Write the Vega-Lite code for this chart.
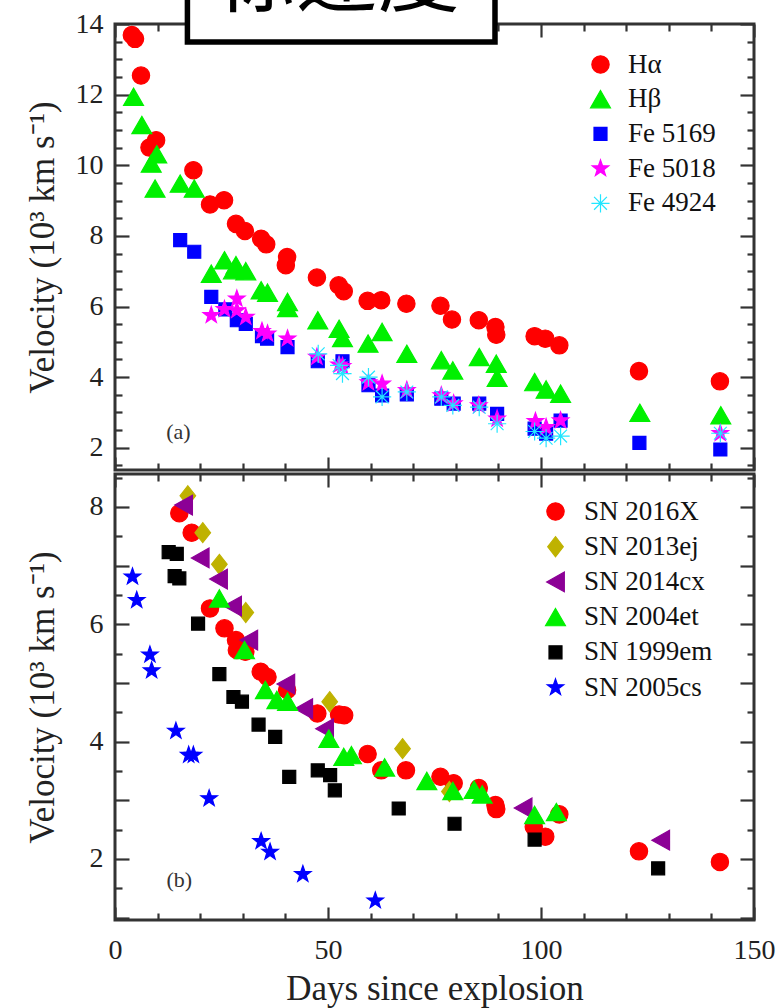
{
  "$schema": "https://vega.github.io/schema/vega-lite/v6.json",
  "autosize": {"type": "pad"},
  "padding": {"top": -122, "left": 23, "right": 5, "bottom": 2},
  "background": "white",
  "bounds": "flush",
  "spacing": 4,
  "resolve": {
    "scale": {"color": "independent", "stroke": "independent", "shape": "independent"},
    "legend": {"color": "independent", "stroke": "independent", "shape": "independent"}
  },
  "config": {
    "view": {"stroke": "#333", "strokeWidth": 3},
    "font": "Liberation Serif"
  },
  "datasets": {
    "top": [
      {"series": "Hα", "day": 3.95, "v": 13.69}, {"series": "Hα", "day": 4.7, "v": 13.58}, {"series": "Hα", "day": 6.1, "v": 12.54},
      {"series": "Hα", "day": 8.1, "v": 10.5}, {"series": "Hα", "day": 9.65, "v": 10.71}, {"series": "Hα", "day": 18.4, "v": 9.86},
      {"series": "Hα", "day": 22.3, "v": 8.89}, {"series": "Hα", "day": 25.6, "v": 9.01}, {"series": "Hα", "day": 28.4, "v": 8.34},
      {"series": "Hα", "day": 30.5, "v": 8.14}, {"series": "Hα", "day": 34.3, "v": 7.92}, {"series": "Hα", "day": 35.5, "v": 7.76},
      {"series": "Hα", "day": 40.4, "v": 7.4}, {"series": "Hα", "day": 40.1, "v": 7.17}, {"series": "Hα", "day": 47.4, "v": 6.82},
      {"series": "Hα", "day": 52.5, "v": 6.6}, {"series": "Hα", "day": 53.7, "v": 6.43}, {"series": "Hα", "day": 59.3, "v": 6.16},
      {"series": "Hα", "day": 62.5, "v": 6.18}, {"series": "Hα", "day": 68.4, "v": 6.08}, {"series": "Hα", "day": 76.4, "v": 6.02},
      {"series": "Hα", "day": 79.1, "v": 5.63}, {"series": "Hα", "day": 85.4, "v": 5.61}, {"series": "Hα", "day": 89.3, "v": 5.42},
      {"series": "Hα", "day": 89.5, "v": 5.2}, {"series": "Hα", "day": 98.5, "v": 5.16}, {"series": "Hα", "day": 101.0, "v": 5.09},
      {"series": "Hα", "day": 104.3, "v": 4.9}, {"series": "Hα", "day": 123.0, "v": 4.17}, {"series": "Hα", "day": 142.0, "v": 3.88},
      {"series": "Hβ", "day": 4.35, "v": 11.94}, {"series": "Hβ", "day": 6.3, "v": 11.14}, {"series": "Hβ", "day": 9.8, "v": 10.31},
      {"series": "Hβ", "day": 8.5, "v": 10.05}, {"series": "Hβ", "day": 9.4, "v": 9.34}, {"series": "Hβ", "day": 15.3, "v": 9.48},
      {"series": "Hβ", "day": 18.6, "v": 9.34}, {"series": "Hβ", "day": 22.6, "v": 6.93}, {"series": "Hβ", "day": 25.7, "v": 7.31},
      {"series": "Hβ", "day": 28.4, "v": 7.17}, {"series": "Hβ", "day": 27.8, "v": 7.03}, {"series": "Hβ", "day": 30.7, "v": 7.0},
      {"series": "Hβ", "day": 34.3, "v": 6.46}, {"series": "Hβ", "day": 35.8, "v": 6.39}, {"series": "Hβ", "day": 40.5, "v": 6.13},
      {"series": "Hβ", "day": 40.5, "v": 5.96}, {"series": "Hβ", "day": 47.6, "v": 5.61}, {"series": "Hβ", "day": 52.6, "v": 5.37},
      {"series": "Hβ", "day": 53.4, "v": 5.11}, {"series": "Hβ", "day": 59.4, "v": 4.95}, {"series": "Hβ", "day": 62.7, "v": 5.28},
      {"series": "Hβ", "day": 68.5, "v": 4.66}, {"series": "Hβ", "day": 76.6, "v": 4.48}, {"series": "Hβ", "day": 79.3, "v": 4.19},
      {"series": "Hβ", "day": 85.5, "v": 4.57}, {"series": "Hβ", "day": 89.5, "v": 4.38}, {"series": "Hβ", "day": 89.7, "v": 3.98},
      {"series": "Hβ", "day": 98.5, "v": 3.86}, {"series": "Hβ", "day": 101.2, "v": 3.65}, {"series": "Hβ", "day": 104.6, "v": 3.53},
      {"series": "Hβ", "day": 123.2, "v": 2.99}, {"series": "Hβ", "day": 142.2, "v": 2.92},
      {"series": "Fe 5169", "day": 15.3, "v": 7.88}, {"series": "Fe 5169", "day": 18.6, "v": 7.55}, {"series": "Fe 5169", "day": 22.6, "v": 6.27},
      {"series": "Fe 5169", "day": 25.9, "v": 5.92}, {"series": "Fe 5169", "day": 28.6, "v": 5.61}, {"series": "Fe 5169", "day": 30.7, "v": 5.51},
      {"series": "Fe 5169", "day": 34.5, "v": 5.16}, {"series": "Fe 5169", "day": 35.7, "v": 5.09}, {"series": "Fe 5169", "day": 40.5, "v": 4.85},
      {"series": "Fe 5169", "day": 47.6, "v": 4.45}, {"series": "Fe 5169", "day": 53.4, "v": 4.45}, {"series": "Fe 5169", "day": 59.5, "v": 3.77},
      {"series": "Fe 5169", "day": 62.7, "v": 3.48}, {"series": "Fe 5169", "day": 68.5, "v": 3.51}, {"series": "Fe 5169", "day": 76.6, "v": 3.39},
      {"series": "Fe 5169", "day": 79.5, "v": 3.25}, {"series": "Fe 5169", "day": 85.5, "v": 3.25}, {"series": "Fe 5169", "day": 89.7, "v": 2.96},
      {"series": "Fe 5169", "day": 98.5, "v": 2.54}, {"series": "Fe 5169", "day": 101.2, "v": 2.4}, {"series": "Fe 5169", "day": 104.6, "v": 2.77},
      {"series": "Fe 5169", "day": 123.1, "v": 2.14}, {"series": "Fe 5169", "day": 142.1, "v": 1.95},
      {"series": "Fe 5018", "day": 22.6, "v": 5.75}, {"series": "Fe 5018", "day": 25.7, "v": 5.92}, {"series": "Fe 5018", "day": 28.6, "v": 6.22},
      {"series": "Fe 5018", "day": 28.6, "v": 5.89}, {"series": "Fe 5018", "day": 30.7, "v": 5.7}, {"series": "Fe 5018", "day": 34.5, "v": 5.3},
      {"series": "Fe 5018", "day": 35.8, "v": 5.23}, {"series": "Fe 5018", "day": 40.5, "v": 5.09}, {"series": "Fe 5018", "day": 47.4, "v": 4.57},
      {"series": "Fe 5018", "day": 52.6, "v": 4.35}, {"series": "Fe 5018", "day": 53.4, "v": 4.31}, {"series": "Fe 5018", "day": 59.5, "v": 3.85},
      {"series": "Fe 5018", "day": 62.7, "v": 3.81}, {"series": "Fe 5018", "day": 68.5, "v": 3.63}, {"series": "Fe 5018", "day": 76.6, "v": 3.48},
      {"series": "Fe 5018", "day": 79.5, "v": 3.25}, {"series": "Fe 5018", "day": 85.4, "v": 3.2}, {"series": "Fe 5018", "day": 89.7, "v": 2.82},
      {"series": "Fe 5018", "day": 98.7, "v": 2.75}, {"series": "Fe 5018", "day": 101.2, "v": 2.58}, {"series": "Fe 5018", "day": 104.6, "v": 2.77},
      {"series": "Fe 5018", "day": 142.1, "v": 2.41},
      {"series": "Fe 4924", "day": 47.7, "v": 4.66}, {"series": "Fe 4924", "day": 52.6, "v": 4.33}, {"series": "Fe 4924", "day": 53.4, "v": 4.1},
      {"series": "Fe 4924", "day": 59.5, "v": 4.0}, {"series": "Fe 4924", "day": 62.7, "v": 3.44}, {"series": "Fe 4924", "day": 68.5, "v": 3.58},
      {"series": "Fe 4924", "day": 76.6, "v": 3.44}, {"series": "Fe 4924", "day": 79.3, "v": 3.2}, {"series": "Fe 4924", "day": 85.5, "v": 3.15},
      {"series": "Fe 4924", "day": 89.7, "v": 2.68}, {"series": "Fe 4924", "day": 98.5, "v": 2.46}, {"series": "Fe 4924", "day": 101.2, "v": 2.27},
      {"series": "Fe 4924", "day": 104.6, "v": 2.33}, {"series": "Fe 4924", "day": 142.1, "v": 2.41}
    ],
    "bottom": [
      {"sn": "SN 2016X", "day": 15.1, "v": 7.89}, {"sn": "SN 2016X", "day": 18.0, "v": 7.56}, {"sn": "SN 2016X", "day": 22.3, "v": 6.27},
      {"sn": "SN 2016X", "day": 25.7, "v": 5.93}, {"sn": "SN 2016X", "day": 28.4, "v": 5.73}, {"sn": "SN 2016X", "day": 28.6, "v": 5.56},
      {"sn": "SN 2016X", "day": 30.6, "v": 5.53}, {"sn": "SN 2016X", "day": 34.2, "v": 5.19}, {"sn": "SN 2016X", "day": 35.8, "v": 5.1},
      {"sn": "SN 2016X", "day": 40.4, "v": 4.88}, {"sn": "SN 2016X", "day": 47.5, "v": 4.48}, {"sn": "SN 2016X", "day": 52.6, "v": 4.46},
      {"sn": "SN 2016X", "day": 53.8, "v": 4.45}, {"sn": "SN 2016X", "day": 59.3, "v": 3.79}, {"sn": "SN 2016X", "day": 62.5, "v": 3.51},
      {"sn": "SN 2016X", "day": 68.3, "v": 3.51}, {"sn": "SN 2016X", "day": 76.4, "v": 3.4}, {"sn": "SN 2016X", "day": 79.5, "v": 3.29},
      {"sn": "SN 2016X", "day": 85.4, "v": 3.21}, {"sn": "SN 2016X", "day": 89.3, "v": 2.92}, {"sn": "SN 2016X", "day": 89.5, "v": 2.85},
      {"sn": "SN 2016X", "day": 98.3, "v": 2.55}, {"sn": "SN 2016X", "day": 101.0, "v": 2.38}, {"sn": "SN 2016X", "day": 104.3, "v": 2.76},
      {"sn": "SN 2016X", "day": 123.0, "v": 2.13}, {"sn": "SN 2016X", "day": 142.0, "v": 1.95},
      {"sn": "SN 2013ej", "day": 17.1, "v": 8.19}, {"sn": "SN 2013ej", "day": 20.6, "v": 7.56}, {"sn": "SN 2013ej", "day": 24.5, "v": 7.02},
      {"sn": "SN 2013ej", "day": 30.7, "v": 6.2}, {"sn": "SN 2013ej", "day": 50.4, "v": 4.68}, {"sn": "SN 2013ej", "day": 67.5, "v": 3.88},
      {"sn": "SN 2013ej", "day": 78.5, "v": 3.15},
      {"sn": "SN 2014cx", "day": 16.1, "v": 8.03}, {"sn": "SN 2014cx", "day": 20.0, "v": 7.13}, {"sn": "SN 2014cx", "day": 24.3, "v": 6.77},
      {"sn": "SN 2014cx", "day": 27.6, "v": 6.31}, {"sn": "SN 2014cx", "day": 31.4, "v": 5.73}, {"sn": "SN 2014cx", "day": 40.1, "v": 4.98},
      {"sn": "SN 2014cx", "day": 44.3, "v": 4.56}, {"sn": "SN 2014cx", "day": 49.2, "v": 4.22}, {"sn": "SN 2014cx", "day": 95.8, "v": 2.87},
      {"sn": "SN 2014cx", "day": 128.1, "v": 2.32},
      {"sn": "SN 2004et", "day": 24.5, "v": 6.44}, {"sn": "SN 2004et", "day": 30.4, "v": 5.56}, {"sn": "SN 2004et", "day": 35.3, "v": 4.88},
      {"sn": "SN 2004et", "day": 38.0, "v": 4.71}, {"sn": "SN 2004et", "day": 40.5, "v": 4.68}, {"sn": "SN 2004et", "day": 50.2, "v": 4.05},
      {"sn": "SN 2004et", "day": 53.7, "v": 3.74}, {"sn": "SN 2004et", "day": 55.5, "v": 3.77}, {"sn": "SN 2004et", "day": 63.3, "v": 3.56},
      {"sn": "SN 2004et", "day": 73.2, "v": 3.33}, {"sn": "SN 2004et", "day": 79.3, "v": 3.16}, {"sn": "SN 2004et", "day": 84.3, "v": 3.18},
      {"sn": "SN 2004et", "day": 86.2, "v": 3.1}, {"sn": "SN 2004et", "day": 98.5, "v": 2.75}, {"sn": "SN 2004et", "day": 103.6, "v": 2.8},
      {"sn": "SN 1999em", "day": 12.6, "v": 7.23}, {"sn": "SN 1999em", "day": 14.5, "v": 7.2}, {"sn": "SN 1999em", "day": 14.0, "v": 6.82},
      {"sn": "SN 1999em", "day": 15.1, "v": 6.78}, {"sn": "SN 1999em", "day": 19.5, "v": 6.01}, {"sn": "SN 1999em", "day": 24.5, "v": 5.15},
      {"sn": "SN 1999em", "day": 27.8, "v": 4.76}, {"sn": "SN 1999em", "day": 29.8, "v": 4.68}, {"sn": "SN 1999em", "day": 33.7, "v": 4.29},
      {"sn": "SN 1999em", "day": 37.6, "v": 4.08}, {"sn": "SN 1999em", "day": 40.9, "v": 3.4}, {"sn": "SN 1999em", "day": 47.6, "v": 3.51},
      {"sn": "SN 1999em", "day": 50.5, "v": 3.43}, {"sn": "SN 1999em", "day": 51.6, "v": 3.17}, {"sn": "SN 1999em", "day": 66.6, "v": 2.86},
      {"sn": "SN 1999em", "day": 79.7, "v": 2.6}, {"sn": "SN 1999em", "day": 98.5, "v": 2.33}, {"sn": "SN 1999em", "day": 127.5, "v": 1.84},
      {"sn": "SN 2005cs", "day": 4.1, "v": 6.81}, {"sn": "SN 2005cs", "day": 5.1, "v": 6.41}, {"sn": "SN 2005cs", "day": 8.2, "v": 5.48},
      {"sn": "SN 2005cs", "day": 8.6, "v": 5.21}, {"sn": "SN 2005cs", "day": 14.3, "v": 4.18}, {"sn": "SN 2005cs", "day": 17.3, "v": 3.77},
      {"sn": "SN 2005cs", "day": 18.4, "v": 3.77}, {"sn": "SN 2005cs", "day": 22.1, "v": 3.03}, {"sn": "SN 2005cs", "day": 34.3, "v": 2.3},
      {"sn": "SN 2005cs", "day": 36.4, "v": 2.12}, {"sn": "SN 2005cs", "day": 44.1, "v": 1.74}, {"sn": "SN 2005cs", "day": 61.1, "v": 1.29}
    ],
    "boxA": [{"x1": 17.0, "x2": 89.2, "y1": 13.49, "y2": 18, "tx": 52.0, "ty": 14.54, "label": "标速度"}],
    "tagA": [{"day": 14.9, "v": 2.44, "label": "(a)"}],
    "tagB": [{"day": 15.1, "v": 1.64, "label": "(b)"}]
  },
  "vconcat": [
    {
      "width": 639,
      "height": 446,
      "resolve": {"axis": {"x": "independent", "y": "independent"}},
      "layer": [
        {
          "data": {"name": "top"},
          "mark": {"type": "point", "filled": true, "size": 300, "strokeWidth": 1.2, "opacity": 1},
          "encoding": {
            "x": {"field": "day", "type": "quantitative",
              "scale": {"domain": [0, 150], "nice": false, "zero": false},
              "axis": {"orient": "bottom", "values": [0,10,20,30,40,50,60,70,80,90,100,110,120,130,140,150],
                "labels": false, "title": null, "domain": false, "grid": false,
                "tickColor": "#333", "tickWidth": 2.2, "tickSize": {"expr": "datum.value % 50 === 0 ? -13 : -7"}}},
            "y": {"field": "v", "type": "quantitative",
              "scale": {"domain": [1.37, 14], "nice": false, "zero": false},
              "axis": {"orient": "left", "values": [1.5,2,2.5,3,3.5,4,4.5,5,5.5,6,6.5,7,7.5,8,8.5,9,9.5,10,10.5,11,11.5,12,12.5,13,13.5,14],
                "labelExpr": "datum.value % 2 === 0 ? '' + datum.value : ''",
                "labelFont": "Liberation Serif", "labelFontSize": 28, "labelColor": "#222", "labelOverlap": false,
                "labelPadding": 26, "domain": false, "grid": false,
                "tickColor": "#333", "tickWidth": 2.2, "tickSize": {"expr": "datum.value % 2 === 0 ? -14 : -7"},
                "title": "Velocity (10³ km s⁻¹)", "titleFont": "Liberation Serif", "titleFontSize": 35,
                "titleFontWeight": "normal", "titleColor": "#222", "titleX": -55, "titleY": 223}},
            "color": {"field": "series", "type": "nominal",
              "scale": {"domain": ["Hα", "Hβ", "Fe 5169", "Fe 5018", "Fe 4924"], "range": ["#ff0000", "#00f000", "#0000ff", "#ff00ff", "#22e6ff"]},
              "legend": {"orient": "none", "legendX": 472, "legendY": 27, "title": null, "padding": 0,
                "labelFont": "Liberation Serif", "labelFontSize": 27, "labelColor": "#111",
                "symbolSize": 300, "symbolStrokeWidth": 1.2, "rowPadding": 6.7, "labelOffset": 14}},
            "stroke": {"field": "series", "type": "nominal",
              "scale": {"domain": ["Hα", "Hβ", "Fe 5169", "Fe 5018", "Fe 4924"], "range": ["#ff0000", "#00f000", "#0000ff", "#ff00ff", "#22e6ff"]},
              "legend": {"orient": "none", "legendX": 472, "legendY": 27, "title": null, "padding": 0,
                "labelFont": "Liberation Serif", "labelFontSize": 27, "labelColor": "#111",
                "symbolSize": 300, "symbolStrokeWidth": 1.2, "rowPadding": 6.7, "labelOffset": 14}},
            "shape": {"field": "series", "type": "nominal",
              "scale": {"domain": ["Hα", "Hβ", "Fe 5169", "Fe 5018", "Fe 4924"],
                "range": [
                  "M1,0A1,1,0,1,1,-1,0A1,1,0,1,1,1,0Z",
                  "M0,-1L1.15,1L-1.15,1Z",
                  "M-0.75,-0.75L0.75,-0.75L0.75,0.75L-0.75,0.75Z",
                  "M0,-1L0.235,-0.324L0.951,-0.309L0.38,0.124L0.588,0.809L0,0.4L-0.588,0.809L-0.38,0.124L-0.951,-0.309L-0.235,-0.324Z",
                  "M0,-1.05L0,1.05M-1.05,0L1.05,0M-0.74,-0.74L0.74,0.74M-0.74,0.74L0.74,-0.74"
                ]},
              "legend": {"orient": "none", "legendX": 472, "legendY": 27, "title": null, "padding": 0,
                "labelFont": "Liberation Serif", "labelFontSize": 27, "labelColor": "#111",
                "symbolSize": 300, "symbolStrokeWidth": 1.2, "rowPadding": 6.7, "labelOffset": 14}}
          }
        },
        {
          "data": {"name": "tagA"},
          "mark": {"type": "text", "font": "Liberation Serif", "fontSize": 22, "color": "#333", "align": "center", "baseline": "middle"},
          "encoding": {
            "x": {"field": "day", "type": "quantitative",
              "axis": {"orient": "top", "values": [0,10,20,30,40,50,60,70,80,90,100,110,120,130,140,150],
                "labels": false, "title": null, "domain": false, "grid": false,
                "tickColor": "#333", "tickWidth": 2.2, "tickSize": {"expr": "datum.value % 50 === 0 ? -13 : -7"}}},
            "y": {"field": "v", "type": "quantitative",
              "axis": {"orient": "right", "values": [1.5,2,2.5,3,3.5,4,4.5,5,5.5,6,6.5,7,7.5,8,8.5,9,9.5,10,10.5,11,11.5,12,12.5,13,13.5,14],
                "labels": false, "title": null, "domain": false, "grid": false,
                "tickColor": "#333", "tickWidth": 2.2, "tickSize": {"expr": "datum.value % 2 === 0 ? -14 : -7"}}},
            "text": {"field": "label"}
          }
        },
        {
          "data": {"name": "boxA"},
          "mark": {"type": "rect", "fill": "white", "stroke": "black", "strokeWidth": 5.5},
          "encoding": {
            "x": {"field": "x1", "type": "quantitative", "axis": null},
            "x2": {"field": "x2"},
            "y": {"field": "y1", "type": "quantitative", "axis": null},
            "y2": {"field": "y2"}
          }
        },
        {
          "data": {"name": "boxA"},
          "mark": {"type": "text", "font": "Noto Sans CJK SC", "fontSize": 82, "color": "black", "align": "center", "baseline": "alphabetic"},
          "encoding": {
            "x": {"field": "tx", "type": "quantitative", "axis": null},
            "y": {"field": "ty", "type": "quantitative", "axis": null},
            "text": {"field": "label"}
          }
        }
      ]
    },
    {
      "width": 639,
      "height": 446,
      "resolve": {"axis": {"x": "independent", "y": "independent"}},
      "layer": [
        {
          "data": {"name": "bottom"},
          "mark": {"type": "point", "filled": true, "size": 300, "strokeWidth": 1.2, "opacity": 1},
          "encoding": {
            "x": {"field": "day", "type": "quantitative",
              "scale": {"domain": [0, 150], "nice": false, "zero": false},
              "axis": {"orient": "bottom", "values": [0,10,20,30,40,50,60,70,80,90,100,110,120,130,140,150],
                "labelExpr": "datum.value % 50 === 0 ? '' + datum.value : ''",
                "labelFont": "Liberation Serif", "labelFontSize": 28, "labelColor": "#222", "labelOverlap": false, "labelFlush": false,
                "labelPadding": 29, "domain": false, "grid": false,
                "tickColor": "#333", "tickWidth": 2.2, "tickSize": {"expr": "datum.value % 50 === 0 ? -13 : -7"},
                "title": "Days since explosion", "titleFont": "Liberation Serif", "titleFontSize": 35,
                "titleFontWeight": "normal", "titleColor": "#222", "titlePadding": 1}},
            "y": {"field": "v", "type": "quantitative",
              "scale": {"domain": [0.96, 8.56], "nice": false, "zero": false},
              "axis": {"orient": "left", "values": [1,1.5,2,2.5,3,3.5,4,4.5,5,5.5,6,6.5,7,7.5,8,8.5],
                "labelExpr": "datum.value % 2 === 0 ? '' + datum.value : ''",
                "labelFont": "Liberation Serif", "labelFontSize": 28, "labelColor": "#222", "labelOverlap": false,
                "labelPadding": 26, "domain": false, "grid": false,
                "tickColor": "#333", "tickWidth": 2.2, "tickSize": {"expr": "datum.value % 1 === 0 ? -14 : -7"},
                "title": "Velocity (10³ km s⁻¹)", "titleFont": "Liberation Serif", "titleFontSize": 35,
                "titleFontWeight": "normal", "titleColor": "#222", "titleX": -55, "titleY": 223}},
            "color": {"field": "sn", "type": "nominal",
              "scale": {"domain": ["SN 2016X", "SN 2013ej", "SN 2014cx", "SN 2004et", "SN 1999em", "SN 2005cs"],
                "range": ["#ff0000", "#bfb200", "#8c0096", "#00f000", "#000000", "#0000ff"]},
              "legend": {"orient": "none", "legendX": 427, "legendY": 24, "title": null, "padding": 0,
                "labelFont": "Liberation Serif", "labelFontSize": 27, "labelColor": "#111",
                "symbolSize": 300, "symbolStrokeWidth": 1.2, "rowPadding": 7.2, "labelOffset": 15}},
            "stroke": {"field": "sn", "type": "nominal",
              "scale": {"domain": ["SN 2016X", "SN 2013ej", "SN 2014cx", "SN 2004et", "SN 1999em", "SN 2005cs"],
                "range": ["#ff0000", "#bfb200", "#8c0096", "#00f000", "#000000", "#0000ff"]},
              "legend": {"orient": "none", "legendX": 427, "legendY": 24, "title": null, "padding": 0,
                "labelFont": "Liberation Serif", "labelFontSize": 27, "labelColor": "#111",
                "symbolSize": 300, "symbolStrokeWidth": 1.2, "rowPadding": 7.2, "labelOffset": 15}},
            "shape": {"field": "sn", "type": "nominal",
              "scale": {"domain": ["SN 2016X", "SN 2013ej", "SN 2014cx", "SN 2004et", "SN 1999em", "SN 2005cs"],
                "range": [
                  "M1,0A1,1,0,1,1,-1,0A1,1,0,1,1,1,0Z",
                  "M0,-1.15L0.9,0L0,1.15L-0.9,0Z",
                  "M-1.02,0L1.02,-1.14L1.02,1.14Z",
                  "M0,-1L1.15,1L-1.15,1Z",
                  "M-0.75,-0.75L0.75,-0.75L0.75,0.75L-0.75,0.75Z",
                  "M0,-1L0.235,-0.324L0.951,-0.309L0.38,0.124L0.588,0.809L0,0.4L-0.588,0.809L-0.38,0.124L-0.951,-0.309L-0.235,-0.324Z"
                ]},
              "legend": {"orient": "none", "legendX": 427, "legendY": 24, "title": null, "padding": 0,
                "labelFont": "Liberation Serif", "labelFontSize": 27, "labelColor": "#111",
                "symbolSize": 300, "symbolStrokeWidth": 1.2, "rowPadding": 7.2, "labelOffset": 15}}
          }
        },
        {
          "data": {"name": "tagB"},
          "mark": {"type": "text", "font": "Liberation Serif", "fontSize": 22, "color": "#333", "align": "center", "baseline": "middle"},
          "encoding": {
            "x": {"field": "day", "type": "quantitative",
              "axis": {"orient": "top", "values": [0,10,20,30,40,50,60,70,80,90,100,110,120,130,140,150],
                "labels": false, "title": null, "domain": false, "grid": false,
                "tickColor": "#333", "tickWidth": 2.2, "tickSize": {"expr": "datum.value % 50 === 0 ? -13 : -7"}}},
            "y": {"field": "v", "type": "quantitative",
              "axis": {"orient": "right", "values": [1,1.5,2,2.5,3,3.5,4,4.5,5,5.5,6,6.5,7,7.5,8,8.5],
                "labels": false, "title": null, "domain": false, "grid": false,
                "tickColor": "#333", "tickWidth": 2.2, "tickSize": {"expr": "datum.value % 1 === 0 ? -14 : -7"}}},
            "text": {"field": "label"}
          }
        }
      ]
    }
  ]
}
